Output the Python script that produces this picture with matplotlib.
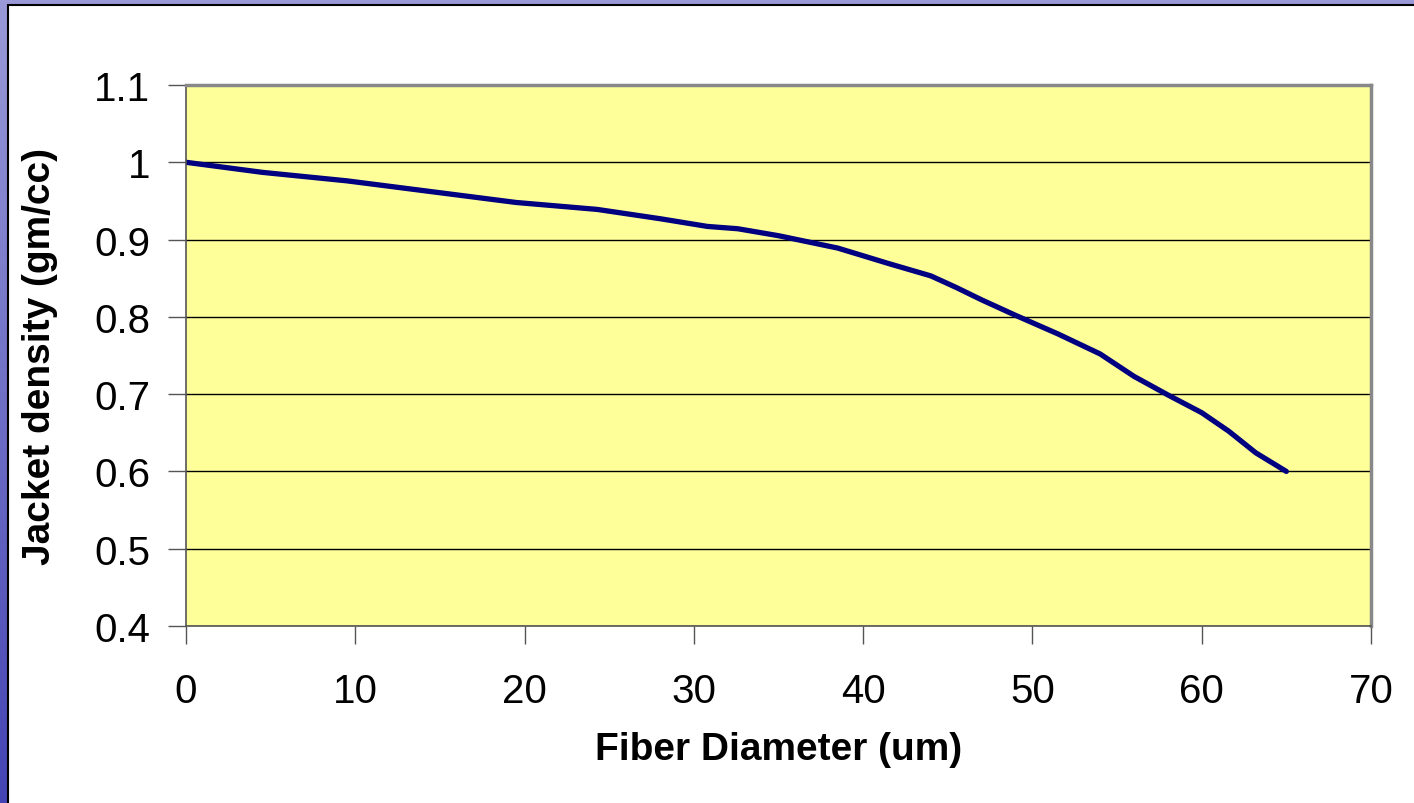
import numpy as np
import matplotlib.pyplot as plt
from matplotlib.patches import Rectangle

# fiber diameter (um) vs jacket density (gm/cc)
diameter = [0, 4.5, 9.5, 14.5, 19.5, 24.3, 28, 30.8, 32.6, 35, 38.5, 41.5,
            44, 45.5, 47, 49, 51.5, 54, 56, 58, 60, 61.6, 63.2, 65]
density = [1.0, 0.987, 0.976, 0.962, 0.948, 0.939, 0.927, 0.917, 0.914, 0.905,
           0.889, 0.869, 0.853, 0.838, 0.822, 0.802, 0.778, 0.752, 0.723,
           0.699, 0.676, 0.652, 0.624, 0.600]

x_ticks = [0, 10, 20, 30, 40, 50, 60, 70]
y_ticks = [0.4, 0.5, 0.6, 0.7, 0.8, 0.9, 1.0, 1.1]
y_tick_labels = ["0.4", "0.5", "0.6", "0.7", "0.8", "0.9", "1", "1.1"]

plt.rcParams['font.family'] = ['Liberation Sans', 'DejaVu Sans']

W, H = 1414, 804
fig = plt.figure(figsize=(W / 100, H / 100), dpi=100)
fig.patch.set_facecolor("white")

# blue slide border on the left and top
bg = fig.add_axes([0, 0, 1, 1], zorder=-10)
grad = np.linspace(0, 1, 256).reshape(-1, 1)
bg.imshow(grad, extent=[0, W, 0, H], aspect="auto",
          cmap=plt.matplotlib.colors.LinearSegmentedColormap.from_list(
              "slide", ["#4444b4", "#9a9ad8"]), origin="lower")
bg.add_patch(Rectangle((8, -20), W + 20, H - 6 + 20, facecolor="white",
                       edgecolor="black", linewidth=1.5))
bg.set_xlim(0, W)
bg.set_ylim(0, H)
bg.axis("off")

ax = fig.add_axes([186 / W, 1 - 627 / H, (1371 - 186) / W, (627 - 86) / H])
ax.set_facecolor("#ffff99")
ax.plot(diameter, density, color="#000080", linewidth=3.8, solid_capstyle="round")

ax.set_xlim(0, 70)
ax.set_ylim(0.4, 1.1)
ax.set_xticks(x_ticks)
ax.set_yticks(y_ticks)
ax.set_yticklabels(y_tick_labels)
ax.yaxis.grid(True, color="black", linewidth=1)
ax.set_axisbelow(True)

for side in ["left", "bottom"]:
    ax.spines[side].set_color("#555555")
    ax.spines[side].set_linewidth(1.2)
for side in ["top", "right"]:
    ax.spines[side].set_color("#888888")
    ax.spines[side].set_linewidth(2.5)

ax.tick_params(direction="out", length=13, width=1, color="#555555",
               labelsize=29)
ax.tick_params(axis="x", pad=20)
ax.tick_params(axis="y", pad=13)

ax.set_xlabel("Fiber Diameter (um)", fontsize=28, fontweight="bold")
ax.set_ylabel("Jacket density (gm/cc)", fontsize=28, fontweight="bold")
ax.xaxis.set_label_coords(0.5, (804 - 750) / H / ((627 - 86) / H) - (804 - 627) / (627 - 86), transform=ax.transAxes)
ax.xaxis.label.set_va("center")
ax.yaxis.set_label_coords((40 - 186) / (1371 - 186), 0.5)
ax.yaxis.label.set_va("center")

fig.savefig("out.png", dpi=100)
